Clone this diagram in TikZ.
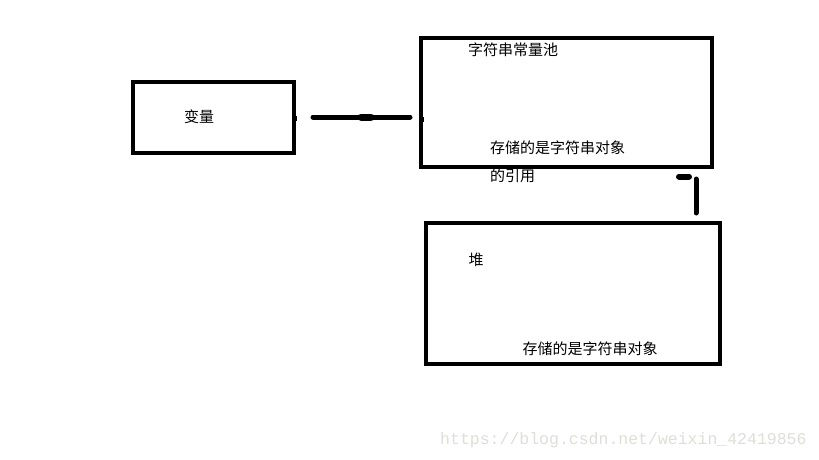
\documentclass[tikz,border=0pt]{standalone}
\usepackage{fontspec}
\setmainfont{Liberation Sans}
\newfontfamily\cjk{Noto Sans CJK SC}
\newfontfamily\wmfont{Liberation Mono}
\begin{document}
\begin{tikzpicture}[x=1pt,y=-1pt,
  box/.style={draw=black,line width=4.5pt,inner sep=0pt},
  lbl/.style={font=\cjk\fontsize{15}{17}\selectfont,inner sep=0pt,text=black},
  conn/.style={line width=5pt,line cap=round}]
\useasboundingbox[fill=white] (0,0) rectangle (819,460);
% boxes
\node[box,minimum width=161pt,minimum height=71pt] (var) at (213.5,117.5) {};
\node[box,minimum width=291pt,minimum height=129pt] (pool) at (566.5,102.5) {};
\node[box,minimum width=294pt,minimum height=141pt] (heap) at (573,293.5) {};
% texts
\node[lbl] (t1) at (199,117) {变量};
\node[lbl] (t2) at (513,50) {字符串常量池};
\node[lbl,anchor=west] (t3) at (490,148) {存储的是字符串对象};
\node[lbl,anchor=west] (t4) at (490,176) {的引用};
\node[lbl] (t5) at (476,260) {堆};
\node[lbl] (t6) at (590,349) {存储的是字符串对象};
\node[font=\wmfont\fontsize{16.5}{18}\selectfont,text={rgb,255:red,222;green,222;blue,218},inner sep=0pt,anchor=west] (wm) at (440,440) {https://blog.csdn.net/weixin\_42419856};
% horizontal connector
\coordinate (h1) at (313,117);
\coordinate (h2) at (410,117);
\coordinate (hm1) at (361,117);
\coordinate (hm2) at (371,117);
\draw[conn] (h1) -- (h2);
\draw[line width=7pt,line cap=round] (hm1) -- (hm2);
\coordinate (d1a) at (296,116); \coordinate (d1b) at (296,121);
\draw[line width=2.5pt] (d1a) -- (d1b);
\coordinate (d2a) at (423,117); \coordinate (d2b) at (423,122);
\draw[line width=2.5pt] (d2a) -- (d2b);
% vertical connector
\coordinate (v1) at (696,179);
\coordinate (v2) at (696,213);
\draw[conn] (v1) -- (v2);
\coordinate (b1) at (679,176.5);
\coordinate (b2) at (689,176.5);
\draw[line width=6pt,line cap=round] (b1) -- (b2);
\end{tikzpicture}
\end{document}
